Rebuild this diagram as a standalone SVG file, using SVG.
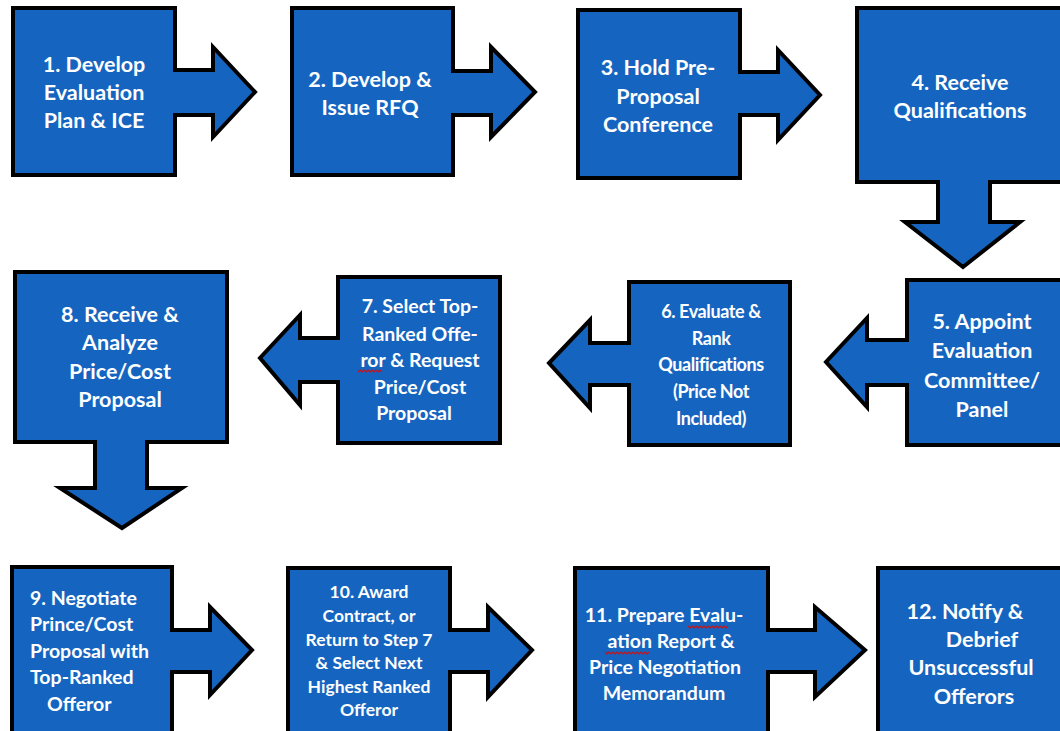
<svg xmlns="http://www.w3.org/2000/svg" width="1060" height="731" viewBox="0 0 1060 731">
<style>
.s{fill:#1565C0;stroke:#000;stroke-width:4;stroke-linejoin:miter}
text{font-family:Lato,"Liberation Sans",sans-serif;font-weight:bold;fill:#fff;text-anchor:middle}
.b{font-size:21.5px}
.m{font-size:19.5px}
.n{font-size:18px;letter-spacing:-0.4px}
.t{font-size:17.5px}
.sq{fill:none;stroke:#d01010;stroke-width:1.2}
</style>
<rect width="1060" height="731" fill="#fff"/>
<g id="connectors"></g>
<g id="n1"><path class="s" d="M13,8 H175 V70 H213 V47 L255,92 L213,137 V115 H175 V175 H13 Z"/>
<text class="b"><tspan x="94" y="72">1. Develop</tspan><tspan x="94" y="100">Evaluation</tspan><tspan x="94" y="128">Plan &amp; ICE</tspan></text></g>
<g id="n2"><path class="s" d="M292,8 H453 V71 H491 V47 L535,92 L491,137 V115 H453 V175 H292 Z"/>
<text class="b"><tspan x="370" y="87">2. Develop &amp;</tspan><tspan x="370" y="115">Issue RFQ</tspan></text></g>
<g id="n3"><path class="s" d="M578,10 H740 V72 H778 V50 L820,95 L778,140 V115 H740 V178 H578 Z"/>
<text class="b"><tspan x="658" y="75">3. Hold Pre-</tspan><tspan x="658" y="104">Proposal</tspan><tspan x="658" y="132">Conference</tspan></text></g>
<g id="n4"><path class="s" d="M857,8 H1064 V182 H990 V222 H1020 L963,267 L905,222 H938 V182 H857 Z"/>
<text class="b"><tspan x="960" y="90">4. Receive</tspan><tspan x="960" y="118">Qualifications</tspan></text></g>
<g id="n5"><path class="s" d="M907,280 H1064 V445 H907 V385 H867 V407 L826,362 L867,318 V340 H907 Z"/>
<text class="b"><tspan x="982" y="329">5. Appoint</tspan><tspan x="982" y="358">Evaluation</tspan><tspan x="982" y="388">Committee/</tspan><tspan x="982" y="417">Panel</tspan></text></g>
<g id="n6"><path class="s" d="M629,282 H790 V445 H629 V385 H590 V408 L549,363 L590,320 V343 H629 Z"/>
<text class="n"><tspan x="711" y="318">6. Evaluate &amp;</tspan><tspan x="711" y="345">Rank</tspan><tspan x="711" y="371">Qualifications</tspan><tspan x="711" y="398">(Price Not</tspan><tspan x="711" y="425">Included)</tspan></text></g>
<g id="n7"><path class="s" d="M338,277 H500 V443 H338 V382 H300 V405 L260,358 L300,315 V338 H338 Z"/>
<text class="m"><tspan x="420" y="313">7. Select Top-</tspan><tspan x="420" y="341">Ranked Offe-</tspan><tspan x="420" y="367">ror &amp; Request</tspan><tspan x="420" y="394">Price/Cost</tspan><tspan x="414" y="420">Proposal</tspan></text>
<path class="sq" d="M358,372 l2,-2 l2,2 l2,-2 l2,2 l2,-2 l2,2 l2,-2 l2,2 l2,-2 l2,2 l2,-2 l2,2"/></g>
<g id="n8"><path class="s" d="M15,272 H227 V442 H147 V488 H182 L122,528 L60,488 H95 V442 H15 Z"/>
<text class="b"><tspan x="120" y="322">8. Receive &amp;</tspan><tspan x="120" y="350">Analyze</tspan><tspan x="120" y="379">Price/Cost</tspan><tspan x="120" y="407">Proposal</tspan></text></g>
<g id="n9"><path class="s" d="M12,567 H172 V630 H210 V607 L252,650 L210,695 V672 H172 V735 H12 Z"/>
<text class="m" style="text-anchor:start"><tspan x="30" y="605">9. Negotiate</tspan><tspan x="30" y="631">Prince/Cost</tspan><tspan x="30" y="658">Proposal with</tspan><tspan x="30" y="684">Top-Ranked</tspan><tspan x="47" y="711">Offeror</tspan></text></g>
<g id="n10"><path class="s" d="M288,568 H450 V630 H488 V607 L532,650 L488,697 V672 H450 V735 H288 Z"/>
<text class="t"><tspan x="369" y="598">10. Award</tspan><tspan x="369" y="622">Contract, or</tspan><tspan x="369" y="646">Return to Step 7</tspan><tspan x="369" y="669">&amp; Select Next</tspan><tspan x="369" y="693">Highest Ranked</tspan><tspan x="369" y="716">Offeror</tspan></text></g>
<g id="n11"><path class="s" d="M575,568 H768 V630 H815 V607 L865,650 L815,697 V672 H768 V735 H575 Z"/>
<text class="m"><tspan x="664" y="622">11. Prepare Evalu-</tspan><tspan x="671" y="648">ation Report &amp;</tspan><tspan x="665" y="674">Price Negotiation</tspan><tspan x="664" y="700">Memorandum</tspan></text>
<path class="sq" d="M688,626 l2,2 l2,-2 l2,2 l2,-2 l2,2 l2,-2 l2,2 l2,-2 l2,2 l2,-2 l2,2 l2,-2 l2,2 l2,-2 l2,2 l2,-2 l2,2 l2,-2 l2,2 l2,-2"/>
<path class="sq" d="M605,652 l2,2 l2,-2 l2,2 l2,-2 l2,2 l2,-2 l2,2 l2,-2 l2,2 l2,-2 l2,2 l2,-2 l2,2 l2,-2 l2,2 l2,-2 l2,2 l2,-2 l2,2 l2,-2 l2,2 l2,-2"/></g>
<g id="n12"><path class="s" d="M878,568 H1064 V735 H878 Z"/>
<text class="b"><tspan x="965" y="619">12. Notify &amp;</tspan><tspan x="982" y="647">Debrief</tspan><tspan x="971" y="675">Unsuccessful</tspan><tspan x="974" y="704">Offerors</tspan></text></g>
</svg>
